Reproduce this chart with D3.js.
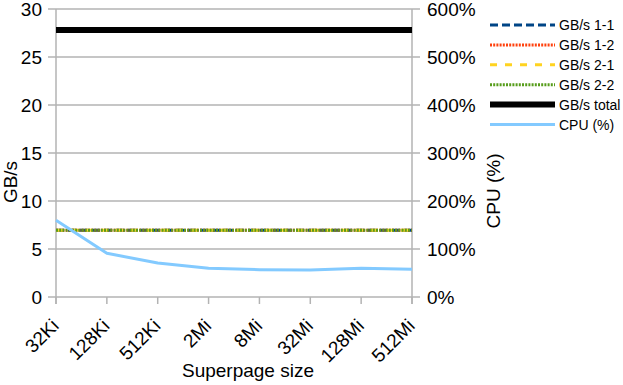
<!DOCTYPE html>
<html><head><meta charset="utf-8">
<script src="https://cdn.jsdelivr.net/npm/d3@7"></script>
<style>body{margin:0;background:#fff}svg{display:block;font-family:"Liberation Sans",Arial,sans-serif}</style>
</head><body><svg id="c" width="623" height="385"></svg>
<script>
const categories = ["32Ki","128Ki","512Ki","2Mi","8Mi","32Mi","128Mi","512Mi"];
const gbps11 = [6.95,6.95,6.95,6.95,6.95,6.95,6.95,6.95];
const gbps12 = [6.95,6.95,6.95,6.95,6.95,6.95,6.95,6.95];
const gbps21 = [6.95,6.95,6.95,6.95,6.95,6.95,6.95,6.95];
const gbps22 = [6.95,6.95,6.95,6.95,6.95,6.95,6.95,6.95];
const gbpsTotal = [27.8,27.8,27.8,27.8,27.8,27.8,27.8,27.8];
const cpuPct = [160,91,71,60,57,56,60,58];
const leftTicks = [0,5,10,15,20,25,30];
const rightTicks = [0,100,200,300,400,500,600];

const svg = d3.select("#c");
const L = 56, R = 412, T = 9, B = 297;
const x = d3.scalePoint().domain(categories).range([L, R]);
const y = d3.scaleLinear().domain([0, 30]).range([B, T]);
const y2 = d3.scaleLinear().domain([0, 600]).range([B, T]);
const grid = "#b3b3b3";
const FS = 19;

svg.append("g").selectAll("line").data(leftTicks).join("line")
  .attr("x1", L - 8).attr("x2", R + 8)
  .attr("y1", d => y(d)).attr("y2", d => y(d))
  .attr("stroke", grid).attr("stroke-width", 1.5);
svg.append("line").attr("x1", L).attr("x2", L).attr("y1", T).attr("y2", B + 7).attr("stroke", grid).attr("stroke-width", 1.5);
svg.append("line").attr("x1", R).attr("x2", R).attr("y1", T).attr("y2", B + 7).attr("stroke", grid).attr("stroke-width", 1.5);
svg.append("g").selectAll("line").data(categories).join("line")
  .attr("x1", d => x(d)).attr("x2", d => x(d)).attr("y1", B).attr("y2", B + 7)
  .attr("stroke", grid).attr("stroke-width", 1.5);

svg.append("g").selectAll("text").data(leftTicks).join("text")
  .attr("x", L - 14).attr("y", d => y(d)).attr("dy", "0.36em")
  .attr("text-anchor", "end").attr("font-size", FS).attr("fill", "#000").text(d => d);
svg.append("g").selectAll("text").data(rightTicks).join("text")
  .attr("x", R + 15).attr("y", d => y2(d)).attr("dy", "0.36em")
  .attr("text-anchor", "start").attr("font-size", FS).attr("fill", "#000").text(d => d + "%");
svg.append("g").selectAll("text").data(categories).join("text")
  .attr("text-anchor", "end").attr("font-size", FS).attr("fill", "#000")
  .attr("transform", d => `translate(${x(d) + 4},${B + 30}) rotate(-45)`)
  .text(d => d);

svg.append("text").attr("transform", `translate(17,182) rotate(-90)`)
  .attr("text-anchor", "middle").attr("font-size", FS).text("GB/s");
svg.append("text").attr("transform", `translate(500,191) rotate(-90)`)
  .attr("text-anchor", "middle").attr("font-size", FS).text("CPU (%)");
svg.append("text").attr("x", 248).attr("y", 377)
  .attr("text-anchor", "middle").attr("font-size", FS).text("Superpage size");

const series = [
  {name: "GB/s 1-1", values: gbps11, color: "#004586", w: 3, dash: "8,4", sc: y},
  {name: "GB/s 1-2", values: gbps12, color: "#ff420e", w: 3, dash: "2,1.2", sc: y},
  {name: "GB/s 2-1", values: gbps21, color: "#ffd320", w: 3, dash: "7,8", sc: y},
  {name: "GB/s 2-2", values: gbps22, color: "#579d1c", w: 3, dash: "2,1.2", sc: y},
  {name: "GB/s total", values: gbpsTotal, color: "#000000", w: 6, dash: null, sc: y},
  {name: "CPU (%)", values: cpuPct, color: "#83caff", w: 3, dash: null, sc: y2}
];

series.forEach(s => {
  const line = d3.line().x((d, i) => x(categories[i])).y(d => s.sc(d));
  svg.append("path").datum(s.values).attr("d", line).attr("fill", "none")
    .attr("stroke", s.color).attr("stroke-width", s.w)
    .attr("stroke-dasharray", s.dash).attr("stroke-linejoin", "round");
});

const lg = svg.append("g");
series.forEach((s, i) => {
  const yy = 25 + i * 19.9;
  lg.append("line").attr("x1", 490).attr("x2", 555).attr("y1", yy).attr("y2", yy)
    .attr("stroke", s.color).attr("stroke-width", s.w).attr("stroke-dasharray", s.dash);
  lg.append("text").attr("x", 559).attr("y", yy).attr("dy", "0.36em")
    .attr("font-size", 14).attr("fill", "#000").text(s.name);
});
</script></body></html>
